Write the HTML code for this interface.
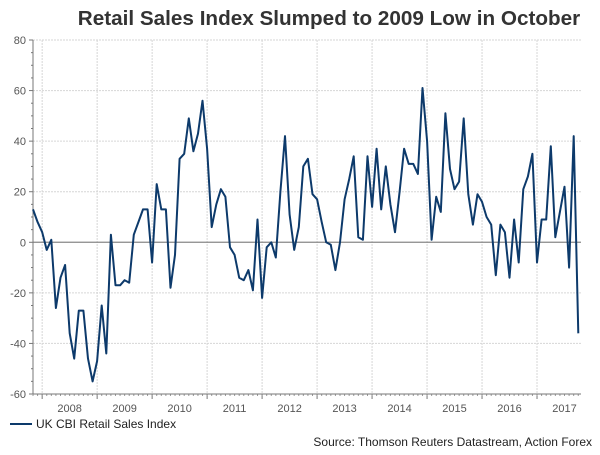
<!DOCTYPE html>
<html><head><meta charset="utf-8"><style>
body{margin:0;background:#fff;width:600px;height:450px;overflow:hidden;font-family:"Liberation Sans",Arial,sans-serif}
</style></head><body>
<svg id="chart" width="600" height="450" xmlns="http://www.w3.org/2000/svg" font-family="Liberation Sans, Arial, sans-serif">
<text x="329" y="25" text-anchor="middle" font-size="20.7" font-weight="bold" fill="#333">Retail Sales Index Slumped to 2009 Low in October</text>
<g id="grid"></g><g id="axes"></g><g id="series"></g>
<g>
<line x1="10" y1="424" x2="32" y2="424" stroke="#0d3a6b" stroke-width="2"/>
<text x="36" y="428" font-size="12" fill="#222">UK CBI Retail Sales Index</text>
</g>
<text x="592" y="446" text-anchor="end" font-size="12" fill="#222">Source: Thomson Reuters Datastream, Action Forex</text>
</svg>
<script>
const values=[13,8,4,-3,1,-26,-14,-9,-36,-46,-27,-27,-46,-55,-47,-25,-44,3,-17,-17,-15,-16,3,8,13,13,-8,23,13,13,-18,-5,33,35,49,36,43,56,37,6,15,21,18,-2,-5,-14,-15,-11,-19,9,-22,-2,0,-6,20,42,11,-3,6,30,33,19,17,8,0,-1,-11,0,17,25,34,2,1,34,14,37,13,30,15,4,20,37,31,31,27,61,40,1,18,12,51,29,21,24,49,19,7,19,16,10,7,-13,7,4,-14,9,-8,21,26,35,-8,9,9,38,2,12,22,-10,42,-36];
const yTicks=[80,60,40,20,0,-20,-40,-60];
const years=["2008","2009","2010","2011","2012","2013","2014","2015","2016","2017"];
const NS="http://www.w3.org/2000/svg";
const X0=33,X1=581,Y0=40,Y1=394,step=4.582;
const xPos=i=>X0+i*step;
const yPos=v=>Y0+(80-v)*(Y1-Y0)/140;
function mk(tag,attrs,parent){const e=document.createElementNS(NS,tag);for(const k in attrs)e.setAttribute(k,attrs[k]);parent.appendChild(e);return e;}
const grid=document.getElementById('grid'),axes=document.getElementById('axes'),series=document.getElementById('series');
yTicks.forEach(v=>{
  const y=yPos(v);
  if(v!==0&&v!==-60){const g=mk('line',{x1:X0,x2:X1,y1:y,y2:y,stroke:'#d6d6d6','stroke-dasharray':'2,1'},grid);
  
  }
  const t=mk('text',{x:26,y:y+4,'text-anchor':'end','font-size':11,fill:'#555'},axes);t.textContent=v;
  
  
});
for(let v=-60;v<=80;v+=5){const y=yPos(v);const tk=mk('line',{x1:X0-(v%20===0?4:2),x2:X0,y1:y,y2:y,stroke:'#777'},axes);
  
  }
years.forEach((yr,k)=>{
  const gx=xPos(2+12*k);
  const gl=mk('line',{x1:gx,x2:gx,y1:Y0,y2:Y1,stroke:'#d6d6d6','stroke-dasharray':'2,1'},grid);
  
  
  mk('line',{x1:gx,x2:gx,y1:Y1,y2:Y1+5,stroke:'#777'},axes);
  const cx=Math.min(gx+6*step,X1-16);
  const t=mk('text',{x:cx,y:Y1+18,'text-anchor':'middle','font-size':11,fill:'#555'},axes);t.textContent=yr;
  
  
});
for(let i=0;i<values.length;i++){const mx=xPos(i);const m=mk('line',{x1:mx,x2:mx,y1:Y1,y2:Y1+2,stroke:'#999'},axes);
  
  }
const zl=mk('line',{x1:X0,x2:X1,y1:yPos(0),y2:yPos(0),stroke:'#888','stroke-width':1.2},axes);


const ya=mk('line',{x1:X0,x2:X0,y1:Y0,y2:Y1,stroke:'#777'},axes);


const xa=mk('line',{x1:X0,x2:X1,y1:Y1,y2:Y1,stroke:'#777'},axes);


const pts=values.map((v,i)=>xPos(i).toFixed(1)+','+yPos(v).toFixed(1)).join(' ');
const pl=mk('polyline',{points:pts,fill:'none',stroke:'#0d3a6b','stroke-width':2,'stroke-linejoin':'round'},series);


</script>
</body></html>
